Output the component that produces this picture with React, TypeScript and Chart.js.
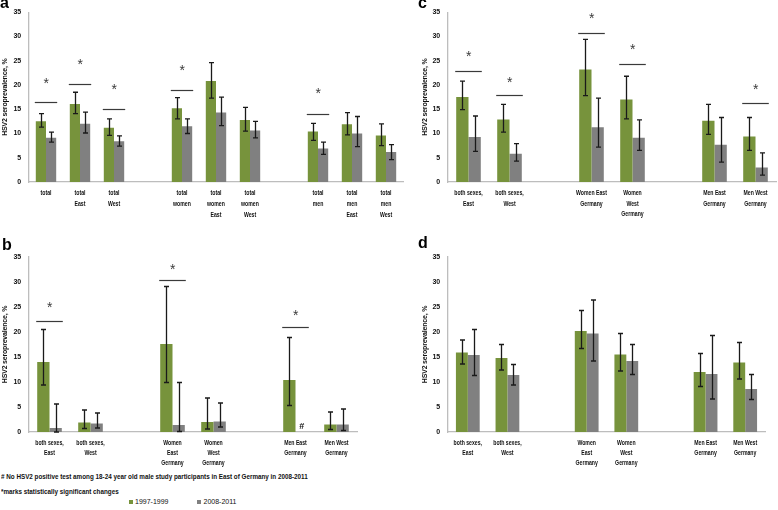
import React, { useEffect, useRef } from "react";
import { Chart, registerables } from "chart.js";
Chart.register(...registerables);

const SERIES = ["1997-1999", "2008-2011"];
const GREEN = "#77933C";
const GRAY = "#808080";
const Y_TITLE = "HSV2 seroprevalence, %";
const Y_MIN = 0;
const Y_MAX = 35;
const Y_STEP = 5;

// Panel a
const labelsA = ["total", ["total", "East"], ["total", "West"], "", ["total", "women"], ["total", "women", "East"], ["total", "women", "West"], "", ["total", "men"], ["total", "men", "East"], ["total", "men", "West"]];
const greenA = [12.5, 16.1, 11.2, null, 15.2, 20.8, 12.8, null, 10.4, 11.9, 9.6];
const grayA = [9.1, 12.0, 8.4, null, 11.5, 14.3, 10.6, null, 6.9, 10.0, 6.2];
const greenLoA = [11.3, 14.1, 9.6, null, 13.0, 17.3, 10.5, null, 8.6, 9.7, 7.5];
const greenHiA = [14.1, 18.5, 13.0, null, 17.4, 24.6, 15.4, null, 12.1, 14.3, 12.0];
const grayLoA = [8.2, 10.1, 7.4, null, 10.0, 11.6, 9.1, null, 5.7, 7.3, 4.6];
const grayHiA = [10.3, 14.4, 9.5, null, 13.0, 17.5, 12.5, null, 8.2, 13.5, 7.7];
const sigLineA = [16.5, 20.2, 15.0, null, 18.9, null, null, null, 14.1, null, null];
const sigStarA = [21.1, 25.0, 19.7, null, 23.7, null, null, null, 18.9, null, null];

// Panel b
const labelsB = [["both sexes,", "East"], ["both sexes,", "West"], "", ["Women", "East", "Germany"], ["Women", "West", "Germany"], "", ["Men East", "Germany"], ["Men West", "Germany"]];
const greenB = [14.0, 1.9, null, 17.6, 2.0, null, 10.4, 1.5];
const grayB = [0.8, 1.7, null, 1.4, 2.1, null, 0, 1.5];
const greenLoB = [9.4, 0.7, null, 9.9, 0.6, null, 5.3, 0.5];
const greenHiB = [20.5, 4.4, null, 29.1, 6.8, null, 18.9, 4.0];
const grayLoB = [0, 0.8, null, 0.1, 1.0, null, null, 0.3];
const grayHiB = [5.6, 3.8, null, 9.9, 5.8, null, null, 4.6];
const sigLineB = [22.2, null, null, 30.3, null, null, 21.0, null];
const sigStarB = [25.6, null, null, 33.3, null, null, 24.0, null];
const hashB = [null, null, null, null, null, null, 1.0, null];

// Panel c
const labelsC = [["both sexes,", "East"], ["both sexes,", "West"], "", ["Women East", "Germany"], ["Women", "West", "Germany"], "", ["Men East", "Germany"], ["Men West", "Germany"]];
const greenC = [17.5, 12.9, null, 23.2, 17.0, null, 12.6, 9.4];
const grayC = [9.3, 5.8, null, 11.3, 9.1, null, 7.7, 3.0];
const greenLoC = [14.9, 10.3, null, 17.8, 13.0, null, 9.8, 6.5];
const greenHiC = [20.8, 16.0, null, 29.4, 21.8, null, 16.0, 13.3];
const grayLoC = [6.3, 4.3, null, 7.2, 6.5, null, 4.1, 1.4];
const grayHiC = [13.6, 7.9, null, 17.3, 12.8, null, 13.3, 6.0];
const sigLineC = [22.8, 17.9, null, 30.7, 24.4, null, null, 16.2];
const sigStarC = [26.6, 21.3, null, 34.5, 28.0, null, null, 19.8];

// Panel d
const labelsD = labelsB;
const greenD = [15.9, 14.8, null, 20.2, 15.5, null, 12.0, 13.9];
const grayD = [15.4, 11.4, null, 19.7, 14.2, null, 11.6, 8.6];
const greenLoD = [13.6, 12.4, null, 16.7, 12.2, null, 9.1, 10.6];
const greenHiD = [18.4, 17.5, null, 24.3, 19.7, null, 15.7, 17.9];
const grayLoD = [11.3, 9.4, null, 14.2, 11.5, null, 6.6, 6.5];
const grayHiD = [20.5, 13.5, null, 26.4, 17.5, null, 19.3, 11.5];
const noneD = [null, null, null, null, null, null, null, null];

const FOOT1 = "# No HSV2 positive test among 18-24 year old male study participants in East of Germany in 2008-2011";
const FOOT2 = "*marks statistically significant changes";

const SANS = "'Liberation Sans', Arial, sans-serif";

type PD = {
  labels: any[];
  green: (number | null)[];
  gray: (number | null)[];
  greenLo: (number | null)[];
  greenHi: (number | null)[];
  grayLo: (number | null)[];
  grayHi: (number | null)[];
  sigLine: (number | null)[];
  sigStar: (number | null)[];
  hash: (number | null)[];
};

type Geo = {
  left: number;
  top: number;
  width: number;
  height: number;
  yW: number;
  padTop: number;
  padRight: number;
  xH: number;
  titlePad: number;
  lab0: number;
  labLH: number;
};

function Panel({ pd, geo }: { pd: PD; geo: Geo }) {
  const ref = useRef<HTMLCanvasElement | null>(null);
  useEffect(() => {
    const canvas = ref.current;
    if (!canvas) return;
    const overlay = {
      id: "errs",
      beforeDraw(chart: any) {
        chart.ctx.letterSpacing = "-0.2px";
      },
      afterDatasetsDraw(chart: any) {
        const ctx = chart.ctx;
        const ys = chart.scales.y;
        const xs = chart.scales.x;
        const sets = [
          [pd.greenLo, pd.greenHi],
          [pd.grayLo, pd.grayHi],
        ];
        ctx.save();
        sets.forEach(([lo, hi], di) => {
          const meta = chart.getDatasetMeta(di);
          meta.data.forEach((el: any, i: number) => {
            const l = lo[i];
            const h = hi[i];
            if (l == null || h == null) return;
            const x = Math.round(el.x) + 0.5;
            const y1 = ys.getPixelForValue(h);
            const y0 = ys.getPixelForValue(l);
            ctx.strokeStyle = "#1a1a1a";
            ctx.lineWidth = 1.3;
            ctx.beginPath();
            ctx.moveTo(x, y1);
            ctx.lineTo(x, y0);
            ctx.moveTo(x - 2.5, y1);
            ctx.lineTo(x + 2.5, y1);
            ctx.moveTo(x - 2.5, y0);
            ctx.lineTo(x + 2.5, y0);
            ctx.stroke();
          });
        });
        const m0 = chart.getDatasetMeta(0);
        const m1 = chart.getDatasetMeta(1);
        pd.sigLine.forEach((v, i) => {
          if (v == null) return;
          const e0 = m0.data[i];
          const e1 = m1.data[i];
          const xl = e0.x - e0.width / 2 - 1;
          const xr = e1.x + e1.width / 2 + 1;
          const yy = Math.round(ys.getPixelForValue(v)) + 0.5;
          ctx.strokeStyle = "#3a3a3a";
          ctx.lineWidth = 1.2;
          ctx.beginPath();
          ctx.moveTo(xl, yy);
          ctx.lineTo(xr, yy);
          ctx.stroke();
          const s = pd.sigStar[i];
          if (s != null) {
            const ysP = ys.getPixelForValue(s);
            ctx.fillStyle = "#3a3a3a";
            ctx.font = "14px " + SANS;
            ctx.textAlign = "center";
            ctx.textBaseline = "alphabetic";
            ctx.fillText("*", (xl + xr) / 2, ysP + 8);
          }
        });
        pd.hash.forEach((v, i) => {
          if (v == null) return;
          const e1 = m1.data[i];
          ctx.fillStyle = "#111";
          ctx.font = "bold 9px " + SANS;
          ctx.textAlign = "center";
          ctx.textBaseline = "middle";
          ctx.fillText("#", e1.x, ys.getPixelForValue(v));
        });
        // category labels (condensed)
        ctx.fillStyle = "#111";
        ctx.font = "bold 7.6px " + SANS;
        ctx.textAlign = "center";
        ctx.textBaseline = "middle";
        ctx.letterSpacing = "0px";
        pd.labels.forEach((lab, i) => {
          const lines = Array.isArray(lab) ? lab : [lab];
          const x = xs.getPixelForValue(i);
          lines.forEach((line: string, li: number) => {
            ctx.save();
            ctx.translate(x, xs.top + geo.lab0 + li * geo.labLH);
            ctx.scale(0.68, 1);
            ctx.fillText(line, 0, 0);
            ctx.restore();
          });
        });
        ctx.restore();
      },
      afterDraw(chart: any) {
        chart.ctx.letterSpacing = "0px";
      },
    };
    const chart = new Chart(canvas, {
      type: "bar",
      data: {
        labels: pd.labels,
        datasets: [
          { label: SERIES[0], data: pd.green, backgroundColor: GREEN, borderWidth: 0 },
          { label: SERIES[1], data: pd.gray, backgroundColor: GRAY, borderWidth: 0 },
        ],
      },
      options: {
        animation: false,
        responsive: false,
        maintainAspectRatio: false,
        devicePixelRatio: 1,
        layout: { padding: { top: geo.padTop, right: geo.padRight, bottom: 0, left: 0 } },
        datasets: { bar: { categoryPercentage: 0.6, barPercentage: 1.0 } },
        plugins: { legend: { display: false }, tooltip: { enabled: false } },
        scales: {
          x: {
            grid: { display: false, drawTicks: false },
            border: { display: true, color: "#BDBDBD", width: 1.3 },
            ticks: { display: false, autoSkip: false, maxRotation: 0, minRotation: 0 },
            afterFit: (s: any) => {
              s.height = geo.xH;
            },
          },
          y: {
            min: Y_MIN,
            max: Y_MAX,
            grid: { display: false, drawTicks: false },
            border: { display: true, color: "#BDBDBD", width: 1.3 },
            ticks: {
              stepSize: Y_STEP,
              padding: 8,
              color: "#111",
              font: { family: SANS, size: 7, weight: "bold" },
            },
            title: {
              display: true,
              text: Y_TITLE,
              color: "#111",
              padding: { top: geo.titlePad, bottom: 0 },
              font: { family: SANS, size: 7, weight: "bold" },
            },
            afterFit: (s: any) => {
              s.width = geo.yW;
            },
          },
        },
      },
      plugins: [overlay],
    } as any);
    return () => chart.destroy();
  }, []);
  return (
    <canvas
      ref={ref}
      width={geo.width}
      height={geo.height}
      style={{ position: "absolute", left: geo.left, top: geo.top, width: geo.width, height: geo.height }}
    />
  );
}

const pdA: PD = { labels: labelsA, green: greenA, gray: grayA, greenLo: greenLoA, greenHi: greenHiA, grayLo: grayLoA, grayHi: grayHiA, sigLine: sigLineA, sigStar: sigStarA, hash: noneD };
const pdB: PD = { labels: labelsB, green: greenB, gray: grayB, greenLo: greenLoB, greenHi: greenHiB, grayLo: grayLoB, grayHi: grayHiB, sigLine: sigLineB, sigStar: sigStarB, hash: hashB };
const pdC: PD = { labels: labelsC, green: greenC, gray: grayC, greenLo: greenLoC, greenHi: greenHiC, grayLo: grayLoC, grayHi: grayHiC, sigLine: sigLineC, sigStar: sigStarC, hash: noneD };
const pdD: PD = { labels: labelsD, green: greenD, gray: grayD, greenLo: greenLoD, greenHi: greenHiD, grayLo: grayLoD, grayHi: grayHiD, sigLine: noneD, sigStar: noneD, hash: noneD };

const geoA: Geo = { left: 0, top: 0, width: 410, height: 232, yW: 29, padTop: 12, padRight: 7, xH: 50, titlePad: 1, lab0: 10.5, labLH: 11 };
const geoB: Geo = { left: 0, top: 232, width: 362, height: 238, yW: 29, padTop: 25, padRight: 5, xH: 38, titlePad: 1, lab0: 11, labLH: 10 };
const geoC: Geo = { left: 418, top: 0, width: 360, height: 232, yW: 30, padTop: 12, padRight: 2, xH: 50, titlePad: 2.5, lab0: 11, labLH: 10.5 };
const geoD: Geo = { left: 418, top: 232, width: 360, height: 238, yW: 30, padTop: 25, padRight: 13, xH: 38, titlePad: 2.5, lab0: 11, labLH: 10 };

const letterStyle: React.CSSProperties = {
  position: "absolute",
  fontFamily: SANS,
  fontWeight: "bold",
  fontSize: 16,
  lineHeight: "16px",
  color: "#000",
};

const footStyle: React.CSSProperties = {
  position: "absolute",
  left: 1,
  fontFamily: SANS,
  fontSize: 7,
  fontWeight: "bold",
  whiteSpace: "nowrap",
  color: "#111",
  lineHeight: "8px",
  transform: "scaleX(0.9)",
  transformOrigin: "left center",
};

export default function App() {
  return (
    <div style={{ position: "absolute", left: 0, top: 0, width: 778, height: 510, background: "#fff", overflow: "hidden" }}>
      <Panel pd={pdA} geo={geoA} />
      <Panel pd={pdB} geo={geoB} />
      <Panel pd={pdC} geo={geoC} />
      <Panel pd={pdD} geo={geoD} />
      <div style={{ ...letterStyle, left: 0, top: -5 }}>a</div>
      <div style={{ ...letterStyle, left: 2, top: 237 }}>b</div>
      <div style={{ ...letterStyle, left: 418, top: -5 }}>c</div>
      <div style={{ ...letterStyle, left: 418, top: 235 }}>d</div>
      <div style={{ ...footStyle, top: 473 }}>{FOOT1}</div>
      <div style={{ ...footStyle, top: 488 }}>{FOOT2}</div>
      <div style={{ position: "absolute", left: 129, top: 498, display: "flex", alignItems: "center", fontFamily: SANS, fontSize: 7, color: "#111", lineHeight: "8px", whiteSpace: "nowrap" }}>
        <span style={{ display: "inline-block", width: 4, height: 4, background: GREEN, marginRight: 2 }} />
        <span>{SERIES[0]}</span>
        <span style={{ display: "inline-block", width: 4, height: 4, background: GRAY, marginLeft: 29, marginRight: 2 }} />
        <span>{SERIES[1]}</span>
      </div>
    </div>
  );
}
